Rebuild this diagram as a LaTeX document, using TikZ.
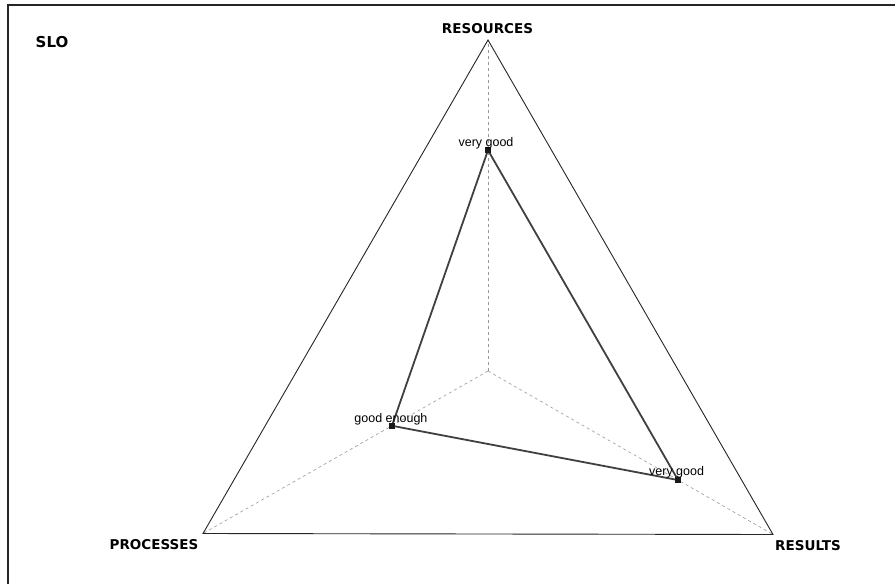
\documentclass[tikz,border=0pt]{standalone}
\usepackage{fontspec}
\setmainfont{Liberation Sans}
\newfontfamily\axisfont{DejaVu Sans}
\usepackage{tikz}
\usetikzlibrary{calc}
\newcommand{\levelhi}{0.667}
\newcommand{\levello}{0.337}

\tikzset{
  axisline/.style = {draw=gray!80, dashed, line width=0.6pt, dash pattern=on 3pt off 3pt},
  frameline/.style = {draw=black!85, line width=1.4pt},
  datapoly/.style = {draw=black!75, line width=1.8pt},
  marker/.style = {rectangle, fill=black!90, inner sep=0pt, minimum size=5.5pt},
  axislabel/.style = {font=\axisfont\bfseries\fontsize{13.5}{16}\selectfont, inner sep=0pt},
  valuelabel/.style = {font=\fontsize{12.5}{14}\selectfont, inner sep=0pt, anchor=base}
}

\begin{document}
\begin{tikzpicture}[x=1pt, y=-1pt]
            \useasboundingbox[fill=white] (0,0) rectangle (895,584);
            % frame (top and left only)
            \coordinate (fbl) at (8,584);
            \coordinate (ftl) at (8,5);
            \coordinate (ftr) at (895,5);
            \draw[frameline] (fbl) -- (ftl) -- (ftr);

            \coordinate (res)  at (488,40);
            \coordinate (proc) at (203,533.5);
            \coordinate (resu) at (773,534.5);
            \coordinate (ctr)  at (488,371);

            \draw[axisline] (ctr) -- (res);
            \draw[axisline] (ctr) -- (proc);
            \draw[axisline] (ctr) -- (resu);
            \draw[black!85, line width=0.9pt] (res) -- (resu) -- (proc) -- cycle;

            \coordinate (pres)  at ($(ctr)!\levelhi!(res)$);
            \coordinate (pproc) at ($(ctr)!\levello!(proc)$);
            \coordinate (presu) at ($(ctr)!\levelhi!(resu)$);
            \draw[datapoly] (pres) -- (presu) -- (pproc) -- cycle;
            \node[marker] (mres)  at (pres) {};
            \node[marker] (mproc) at (pproc) {};
            \node[marker] (mresu) at (presu) {};

            \node[valuelabel] (vres)  at ($(pres)+(-2,-3.5)$) {very good};
            \node[valuelabel] (vproc) at ($(pproc)+(-1,-3.5)$) {good enough};
            \node[valuelabel] (vresu) at ($(presu)+(-1.5,-5)$) {very good};

            \node[axislabel] (lres)  at (487.5,29) {RESOURCES};
            \node[axislabel] (lproc) at (154,545) {PROCESSES};
            \node[axislabel] (lresu) at (808,546) {RESULTS};
            \node[font=\axisfont\bfseries\fontsize{15}{18}\selectfont, inner sep=0pt] (slo) at (52,42.5) {SLO};
        \end{tikzpicture}
\end{document}
